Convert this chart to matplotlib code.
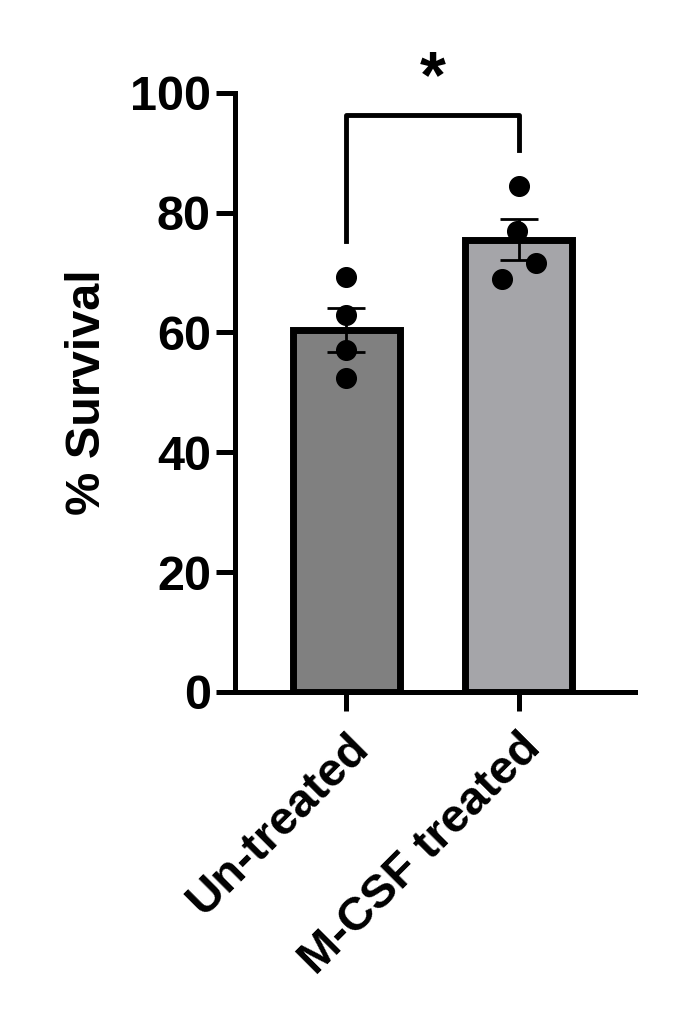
import matplotlib
matplotlib.use("Agg")
import matplotlib.pyplot as plt
import numpy as np

categories = ["Un-treated", "M-CSF treated"]
points_untreated = [69.3, 62.9, 57.1, 52.4]
points_mcsf = [84.5, 77.0, 71.6, 68.9]
point_offsets = [[0.0, 0.0, 0.0, 0.0], [0.0, -0.01, 0.1, -0.1]]
yticks = [0, 20, 40, 60, 80, 100]

plt.rcParams['font.family'] = ['Liberation Sans', 'DejaVu Sans']
plt.rcParams['font.weight'] = 'bold'

fig = plt.figure(figsize=(6.76, 10.19), dpi=100)
ax = fig.add_axes([0.348, 0.321, 0.591, 0.588])
data = [points_untreated, points_mcsf]
means = [np.mean(d) for d in data]
sems = [np.std(d, ddof=1) / np.sqrt(len(d)) for d in data]
colors = ["#808080", "#a5a5a9"]
x = np.arange(len(categories))
ax.bar(x, means, width=0.62, color=colors, edgecolor="black", linewidth=5, zorder=1)
ax.errorbar(x, means, yerr=sems, fmt="none", ecolor="black", elinewidth=2, capsize=14, capthick=2, zorder=3)
for i, d in enumerate(data):
    ax.scatter(x[i] + np.array(point_offsets[i]), d, s=200, color="black", zorder=4)

# significance bracket
ax.plot([0, 0, 1, 1], [75.3, 96.3, 96.3, 90.5], color="black", lw=3.5, clip_on=False)
ax.text(0.5, 97, "*", ha="center", va="bottom", fontsize=48, fontweight="bold")

ax.set_xlim(-0.642, 1.671)
ax.set_ylim(0, 100)
ax.set_yticks(yticks)
ax.set_xticks(x)
ax.set_xticklabels(categories, rotation=45, ha="right", rotation_mode="anchor", fontsize=34)
ax.tick_params(axis="y", labelsize=35, width=3.6, length=14)
ax.tick_params(axis="x", width=3.6, length=14, pad=10)
ax.set_ylabel("% Survival", fontsize=35, fontweight="bold", labelpad=14)
for s in ["top", "right"]:
    ax.spines[s].set_visible(False)
for s in ["left", "bottom"]:
    ax.spines[s].set_linewidth(3.6)
fig.savefig("out.png", dpi=100)
